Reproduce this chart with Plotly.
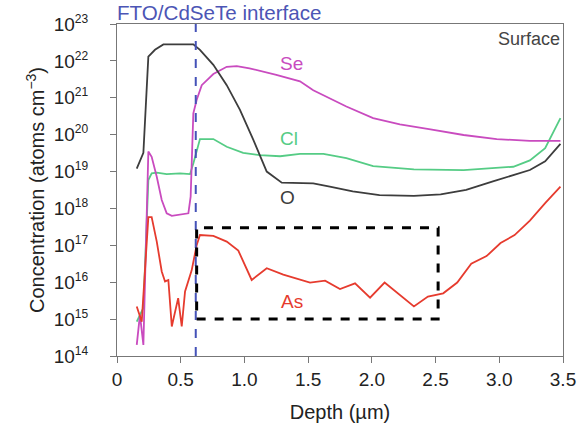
import plotly.graph_objects as go

# ---- data ----
o_depth = [0.155, 0.207, 0.246, 0.298, 0.364, 0.599, 0.651, 0.756, 0.861, 0.965, 1.07, 1.175, 1.293,
           1.436, 1.54, 1.67, 1.85, 2.06, 2.33, 2.54, 2.74, 2.95, 3.11, 3.24, 3.36, 3.48]
o_conc = [1.2e19, 3.2e19, 1.3e22, 2.0e22, 2.8e22, 2.8e22, 2.0e22, 7.8e21, 2.2e21, 4.7e20, 7.2e19, 1.0e19, 5.0e18,
          5.0e18, 4.8e18, 3.9e18, 2.9e18, 2.3e18, 2.2e18, 2.4e18, 3.2e18, 5.4e18, 8.1e18, 1.1e19, 1.9e19, 5.6e19]

se_depth = [0.155, 0.18, 0.207, 0.246, 0.272, 0.312, 0.351, 0.39, 0.43, 0.56, 0.578, 0.599, 0.625, 0.665,
            0.756, 0.861, 0.94, 1.04, 1.25, 1.436, 1.54, 1.80, 2.01, 2.22, 2.46, 2.72, 2.98, 3.24, 3.48]
se_conc = [2.0e14, 1.3e15, 2.0e14, 3.5e19, 2.5e19, 7.2e18, 1.7e18, 7.4e17, 6.3e17, 7.4e17, 2.1e18, 3.8e20, 8.7e20, 2.2e21,
           4.4e21, 6.9e21, 7.2e21, 6.3e21, 4.2e21, 2.8e21, 1.6e21, 5.8e20, 2.8e20, 1.9e20, 1.4e20, 9.8e19, 7.6e19, 6.8e19, 6.8e19]

cl_depth = [0.155, 0.18, 0.207, 0.246, 0.272, 0.312, 0.39, 0.495, 0.573, 0.60, 0.651, 0.756, 0.861, 0.99,
            1.12, 1.28, 1.436, 1.62, 1.80, 2.01, 2.33, 2.72, 3.11, 3.24, 3.36, 3.48]
cl_conc = [8.5e14, 1.3e15, 2.0e15, 5.9e18, 8.9e18, 9.3e18, 8.5e18, 8.9e18, 8.5e18, 1.7e19, 7.6e19, 7.6e19, 4.7e19, 3.2e19,
           2.8e19, 2.6e19, 3.0e19, 3.0e19, 2.3e19, 1.4e19, 1.15e19, 1.1e19, 1.35e19, 2.0e19, 4.3e19, 2.8e20]

as_depth = [0.155, 0.194, 0.246, 0.272, 0.312, 0.351, 0.377, 0.403, 0.43, 0.48, 0.508, 0.534, 0.586, 0.625,
            0.651, 0.756, 0.861, 0.952, 1.057, 1.175, 1.305, 1.436, 1.515, 1.633, 1.75, 1.868, 1.986, 2.10,
            2.33, 2.44, 2.56, 2.67, 2.78, 2.90, 3.01, 3.12, 3.24, 3.36, 3.48]
as_conc = [2.2e15, 8.5e14, 5.8e17, 5.8e17, 1.26e17, 1.95e16, 1.05e16, 1.15e16, 6.3e14, 3.7e15, 6.3e14, 5.6e15, 2.1e16, 1.0e17,
           1.9e17, 1.8e17, 1.26e17, 7.2e16, 1.15e16, 2.4e16, 1.6e16, 1.2e16, 9.8e15, 1.1e16, 6.5e15, 9.3e15, 3.8e15, 9.8e15,
           2.2e15, 4.1e15, 5.0e15, 9.8e15, 3.2e16, 5.1e16, 1.15e17, 1.9e17, 4.7e17, 1.4e18, 3.9e18]

x_ticks = [0, 0.5, 1.0, 1.5, 2.0, 2.5, 3.0, 3.5]
x_ticktext = ["0", "0.5", "1.0", "1.5", "2.0", "2.5", "3.0", "3.5"]
y_ticks = [1e14, 1e15, 1e16, 1e17, 1e18, 1e19, 1e20, 1e21, 1e22, 1e23]
y_exponents = ["14", "15", "16", "17", "18", "19", "20", "21", "22", "23"]

interface_depth = 0.618
box_depth = [0.625, 2.52]
box_conc = [1e15, 3e17]

C_O = "#3d3d3d"
C_SE = "#c94bbf"
C_CL = "#55cc85"
C_AS = "#e63b2e"
C_BLUE = "#4452b8"
FONT = "Liberation Sans, Arial, sans-serif"

fig = go.Figure()
for xs, ys, c, n in [(cl_depth, cl_conc, C_CL, "Cl"), (se_depth, se_conc, C_SE, "Se"),
                     (o_depth, o_conc, C_O, "O"), (as_depth, as_conc, C_AS, "As")]:
    fig.add_trace(go.Scatter(x=xs, y=ys, mode="lines", name=n,
                             line=dict(color=c, width=1.8), showlegend=False))

fig.add_shape(type="line", x0=interface_depth, x1=interface_depth, xref="x", yref="paper",
              y0=0, y1=1, line=dict(color=C_BLUE, width=2, dash="dash"))
fig.add_shape(type="rect", x0=box_depth[0], x1=box_depth[1], y0=box_conc[0], y1=box_conc[1],
              xref="x", yref="y", line=dict(color="black", width=3, dash="dash"))

ann = [("Se", 1.37, 21.94, C_SE), ("Cl", 1.35, 19.9, C_CL), ("O", 1.34, 18.31, C_O), ("As", 1.37, 15.47, C_AS)]
for t, x, y, c in ann:
    fig.add_annotation(x=x, y=y, xref="x", yref="y", text=t, showarrow=False,
                       font=dict(size=19, color=c, family=FONT))

fig.add_annotation(x=0.997, y=0.955, xref="paper", yref="paper", text="Surface", showarrow=False,
                   xanchor="right", yanchor="middle", font=dict(size=18, color="#444444", family=FONT))
fig.add_annotation(x=-0.002, y=1.0, xref="paper", yref="paper", text="FTO/CdSeTe interface", showarrow=False,
                   xanchor="left", yanchor="bottom", borderpad=0, yshift=-1,
                   font=dict(size=20.6, color="#4c55b5", family=FONT))

y_ticktext = ["10<sup><span style='font-size:12px'>%s</span></sup>" % e for e in y_exponents]

fig.update_xaxes(range=[0, 3.5], tickvals=x_ticks, ticktext=x_ticktext, ticks="outside", ticklen=6,
                 tickcolor="#777777", showline=True, linecolor="#777777", linewidth=1, mirror=True,
                 showgrid=False, zeroline=False, automargin=False, ticklabeloverflow="allow",
                 tickfont=dict(size=19, color="#222222", family=FONT),
                 title=dict(text="Depth (µm)", font=dict(size=20, color="#222222", family=FONT), standoff=22))
fig.update_yaxes(type="log", range=[14, 23], tickvals=y_ticks, ticktext=y_ticktext, ticks="outside", ticklen=6,
                 tickcolor="#777777", showline=True, linecolor="#777777", linewidth=1, mirror=True,
                 showgrid=False, zeroline=False, automargin=False, ticklabelstandoff=18,
                 ticklabeloverflow="allow",
                 tickfont=dict(size=19, color="#222222", family=FONT),
                 title=dict(text="Concentration (atoms cm<sup>−3</sup>)",
                            font=dict(size=20, color="#222222", family=FONT), standoff=3))

fig.update_layout(width=579, height=423, margin=dict(l=117, r=16, t=24, b=67, autoexpand=False),
                  plot_bgcolor="white", paper_bgcolor="white", font=dict(family=FONT))

# remove the default 8px page margin so the figure fills the window
fig.write_html("out.html", config={"displayModeBar": False},
               post_script="document.body.style.margin='0px';")
